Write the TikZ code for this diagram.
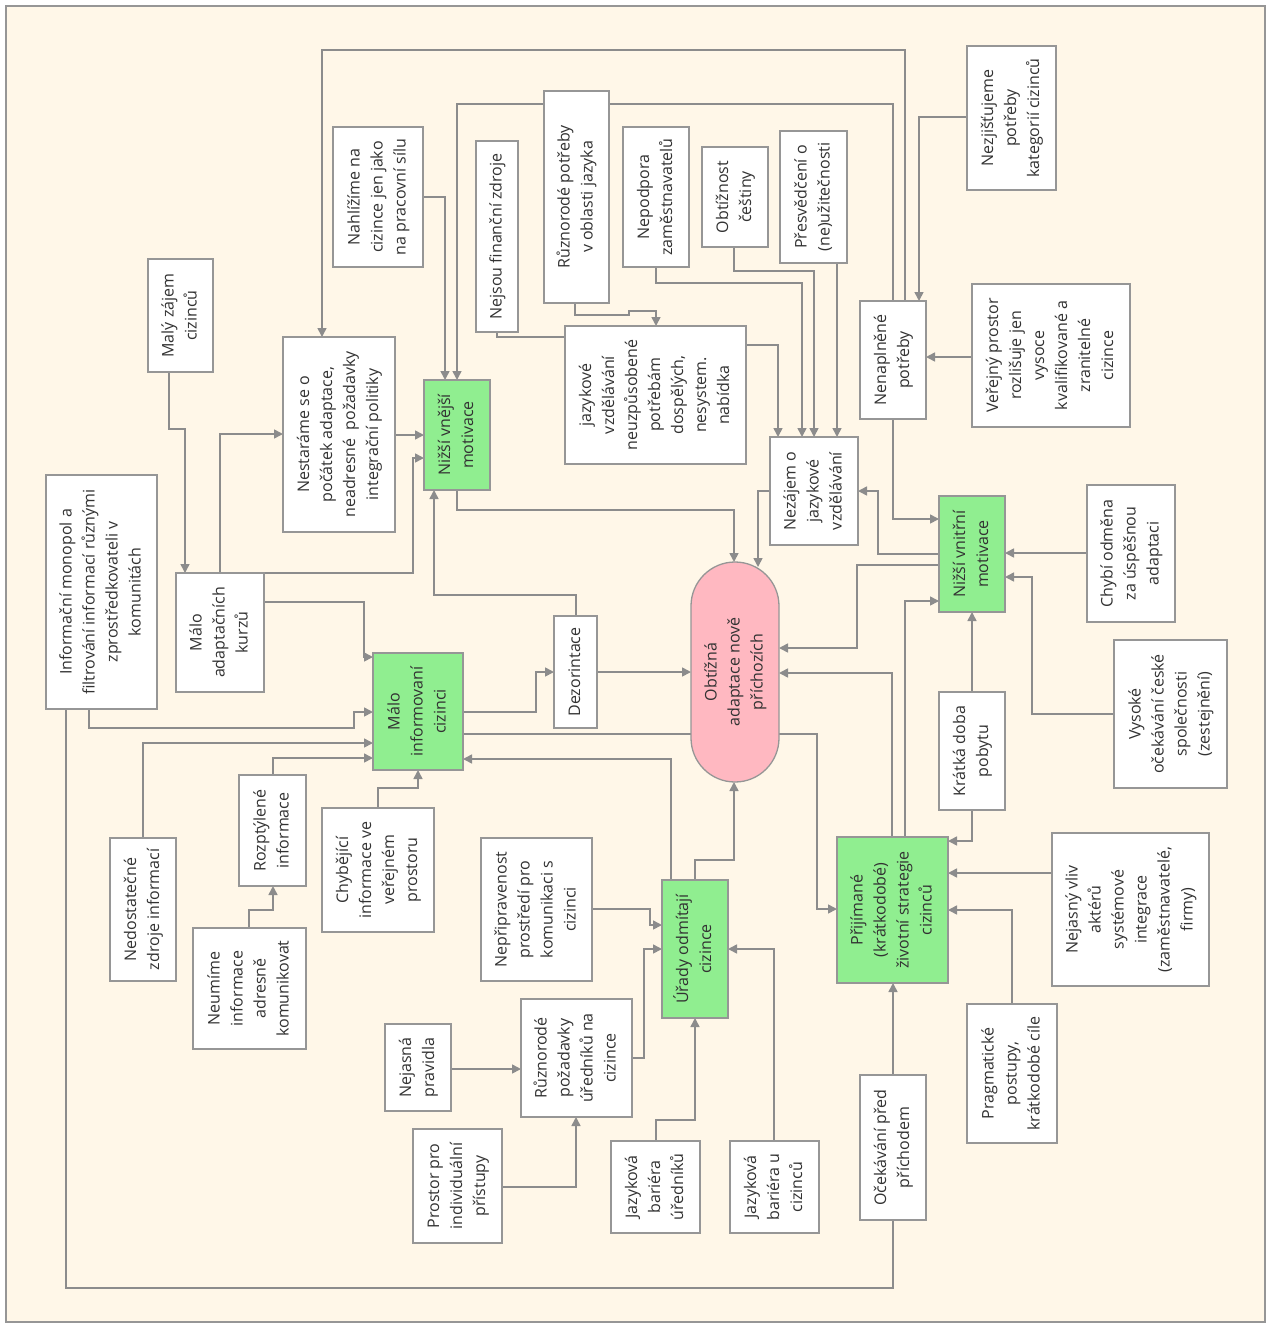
\documentclass[tikz,border=0pt]{standalone}
\usepackage{graphicx}
\usepackage{fontspec}
\setmainfont{Open Sans}
\usetikzlibrary{arrows.meta}
\definecolor{bgc}{RGB}{255,247,232}
\definecolor{lnc}{RGB}{140,140,140}
\definecolor{bdc}{RGB}{150,150,150}
\definecolor{grn}{RGB}{144,238,144}
\definecolor{pnk}{RGB}{255,184,193}
\definecolor{txc}{RGB}{50,50,50}
\pgfdeclarelayer{bg}
\pgfdeclarelayer{lines}
\pgfsetlayers{bg,lines,main}
\newcommand\bx[7]{\node[#6, minimum width={#4-#2}, minimum height={#5-#3}] (#1) at ({(#2+#4)/2},{(#3+#5)/2}) {\rotatebox{90}{\begin{tabular}{@{}c@{}}#7\end{tabular}}};}
\tikzset{
 box/.style={draw=bdc, line width=1.3pt, fill=white, inner sep=0pt, outer sep=0pt, text=txc, font=\fontsize{16}{23}\selectfont},
 gbox/.style={box, fill=grn},
 pbox/.style={box, fill=pnk, rounded corners=44pt},
 conn/.style={draw=lnc, line width=1.6pt},
 arr/.style={conn, -{Triangle[length=9pt,width=9pt]}}
}
\begin{document}
\begin{tikzpicture}[x=1pt,y=-1pt]
\useasboundingbox (0,0) rectangle (1267,1325);
\begin{pgfonlayer}{bg}
\fill[white] (0,0) rectangle (1267,1325);
\filldraw[fill=bgc, draw=bdc, line width=1.2pt] (6,6) rectangle (1265,1322);
\end{pgfonlayer}

\bx{mz}{148}{259}{213}{372}{box}{Malý zájem\\cizinců}
\bx{nah}{333}{127}{423}{267}{box}{Nahlížíme na\\cizince jen jako\\na pracovní sílu}
\bx{nes}{283}{337}{395}{532}{box}{Nestaráme se o\\počátek adaptace,\\neadresné~ požadavky\\integrační politiky}
\bx{nvm}{424}{380}{490}{490}{gbox}{Nižší vnější\\motivace}
\bx{inf}{46}{475}{157}{709}{box}{Informační monopol a\\filtrování informací různými\\zprostředkovateli v\\komunitách}
\bx{mak}{176}{573}{264}{692}{box}{Málo\\adaptačních\\kurzů}
\bx{mic}{373}{653}{463}{770}{gbox}{Málo\\informovaní\\cizinci}
\bx{dez}{554}{616}{597}{728}{box}{Dezorintace}
\bx{obt}{691}{562}{779}{782}{pbox}{Obtížná\\adaptace nově\\příchozích}
\bx{nez}{770}{437}{858}{545}{box}{Nezájem o\\jazykové\\vzdělávání}
\bx{nen}{860}{301}{926}{419}{box}{Nenaplněné\\potřeby}
\bx{nzj}{967}{46}{1056}{190}{box}{Nezjišťujeme\\potřeby\\kategorií cizinců}
\bx{ver}{972}{284}{1130}{427}{box}{Veřejný prostor\\rozlišuje jen\\vysoce\\kvalifikované a\\zranitelné\\cizince}
\bx{nvn}{939}{496}{1005}{612}{gbox}{Nižší vnitřní\\motivace}
\bx{cho}{1087}{485}{1175}{622}{box}{Chybí odměna\\za úspěšnou\\adaptaci}
\bx{vys}{1114}{640}{1227}{788}{box}{Vysoké\\očekávání české\\společnosti\\(zestejnění)}
\bx{kra}{939}{692}{1005}{810}{box}{Krátká doba\\pobytu}
\bx{pri}{837}{837}{948}{983}{gbox}{Přijímané\\(krátkodobé)\\životní strategie\\cizinců}
\bx{nvl}{1052}{833}{1209}{986}{box}{Nejasný vliv\\aktérů\\systémové\\integrace\\(zaměstnavatelé,\\firmy)}
\bx{pra}{967}{1004}{1057}{1143}{box}{Pragmatické\\postupy,\\krátkodobé cíle}
\bx{oce}{860}{1075}{926}{1220}{box}{Očekávání před\\příchodem}
\bx{ura}{662}{880}{728}{1018}{gbox}{Úřady odmítají\\cizince}
\bx{nep}{481}{838}{592}{981}{box}{Nepřipravenost\\prostředí pro\\komunikaci s\\cizinci}
\bx{rpo}{521}{999}{632}{1117}{box}{Různorodé\\požadavky\\úředníků na\\cizince}
\bx{npr}{385}{1024}{451}{1111}{box}{Nejasná\\pravidla}
\bx{pro}{413}{1129}{502}{1243}{box}{Prostor pro\\individuální\\přístupy}
\bx{jbu}{611}{1141}{700}{1233}{box}{Jazyková\\bariéra\\úředníků}
\bx{jbc}{730}{1141}{819}{1233}{box}{Jazyková\\bariéra u\\cizinců}
\bx{neu}{193}{928}{306}{1049}{box}{Neumíme\\informace\\adresně\\komunikovat}
\bx{ned}{110}{838}{176}{981}{box}{Nedostatečné\\zdroje informací}
\bx{roz}{239}{775}{306}{886}{box}{Rozptýlené\\informace}
\bx{chy}{322}{808}{434}{932}{box}{Chybějící\\informace ve\\veřejném\\prostoru}
\bx{nfz}{476}{141}{518}{332}{box}{Nejsou finanční zdroje}
\bx{rpj}{544}{91}{609}{303}{box}{Různorodé potřeby\\v oblasti jazyka}
\bx{jaz}{565}{326}{746}{464}{box}{jazykové\\vzdělávání\\neuzpůsobené\\potřebám\\dospělých,\\nesystem.\\nabídka}
\bx{npz}{623}{127}{689}{267}{box}{Nepodpora\\zaměstnavatelů}
\bx{obc}{702}{147}{768}{247}{box}{Obtížnost\\češtiny}
\bx{pre}{780}{131}{847}{263}{box}{Přesvědčení o\\(ne)užitečnosti}

\begin{pgfonlayer}{lines}
\draw[arr] (nen.north -| 905,0) |- (322,50) -- (nes.north -| 322,0);
\draw[arr] (nen.north -| 893,0) |- (457,104) -- (nvm.north -| 457,0);
\draw[arr] (nzj.west |- 0,117) -| (nen.north -| 919,0);
\draw[arr] (nah.east |- 0,197) -| (nvm.north -| 445,0);
\draw[arr] (rpj.south -| 575,0) |- (629,315) |- (656,311) -- (jaz.north -| 656,0);
\draw[conn] (nfz.south -| 497,0) |- (jaz.west |- 0,337);
\draw[arr] (jaz.east |- 0,345) -| (nez.north -| 778,0);
\draw[arr] (npz.south -| 656,0) |- (802,283) -- (nez.north -| 802,0);
\draw[arr] (obc.south -| 734,0) |- (814,271) -- (nez.north -| 814,0);
\draw[arr] (pre.south -| 837,0) -- (nez.north -| 837,0);
\draw[arr] (ver.west |- 0,357) -- (nen.east |- 0,357);
\draw[arr] (nen.south -| 893,0) |- (nvn.west |- 0,519);
\draw[arr] (nvn.west |- 0,554) -| (878,491) -- (nez.east |- 0,491);
\draw[arr] (nvn.west |- 0,565) -| (857,648) -- (obt.east |- 0,648);
\draw[arr, shorten >=-5pt] (nez.west |- 0,491) -| (obt.north -| 758,0);
\draw[arr] (nvm.south -| 457,0) |- (734,510) -- (obt.north -| 734,0);
\draw[arr] (pri.north -| 905,0) |- (nvn.west |- 0,601);
\draw[arr] (cho.west |- 0,553) -- (nvn.east |- 0,553);
\draw[arr] (vys.west |- 0,714) -| (1032,577) -- (nvn.east |- 0,577);
\draw[arr] (kra.north) -- (nvn.south);
\draw[arr] (kra.south) |- (pri.east |- 0,841);
\draw[arr] (pri.north -| 892,0) |- (obt.east |- 0,673);
\draw[arr] (mic.east |- 0,734) -| (817,909) -- (pri.west |- 0,909);
\draw[arr] (mic.east |- 0,712) -| (536,672) -- (dez.west |- 0,672);
\draw[arr] (dez.east |- 0,672) -- (obt.west |- 0,672);
\draw[arr] (dez.north -| 576,0) |- (434,595) -- (nvm.south -| 434,0);
\draw[arr] (ura.north -| 671,0) |- (mic.east |- 0,759);
\draw[arr] (ura.north -| 695,0) |- (734,860) -- (obt.south -| 734,0);
\draw[arr] (mak.east |- 0,602) -| (364,657) -- (mic.west |- 0,657);
\draw[arr] (mak.north -| 220,0) |- (nes.west |- 0,434);
\draw[arr] (mak.north east) -| (413,458) -- (nvm.west |- 0,458);
\draw[arr] (nes.east |- 0,435) -- (nvm.west |- 0,435);
\draw[arr] (mz.south -| 169,0) |- (185,429) -- (mak.north -| 185,0);
\draw[arr] (inf.south -| 89,0) |- (354,728) |- (mic.west |- 0,712);
\draw[conn] (inf.south -| 66,0) |- (893,1288) -- (oce.south -| 893,0);
\draw[arr] (ned.north -| 143,0) |- (mic.west |- 0,743);
\draw[arr] (roz.north -| 273,0) |- (mic.west |- 0,758);
\draw[arr] (chy.north -| 378,0) |- (418,788) -- (mic.south -| 418,0);
\draw[arr] (neu.north -| 249,0) |- (273,910) -- (roz.south -| 273,0);
\draw[arr] (nep.east |- 0,909) -| (650,925) -- (ura.west |- 0,925);
\draw[arr] (rpo.east |- 0,1058) -| (644,949) -- (ura.west |- 0,949);
\draw[arr] (jbu.north -| 656,0) |- (695,1120) -- (ura.south -| 695,0);
\draw[arr] (jbc.north -| 774,0) |- (ura.east |- 0,949);
\draw[arr] (npr.east |- 0,1069) -- (rpo.west |- 0,1069);
\draw[arr] (pro.east |- 0,1187) -| (rpo.south -| 576,0);
\draw[arr] (nvl.west |- 0,873) -- (pri.east |- 0,873);
\draw[arr] (pra.north -| 1012,0) |- (pri.east |- 0,910);
\draw[arr] (oce.north) -- (pri.south -| 893,0);
\end{pgfonlayer}
\end{tikzpicture}
\end{document}
